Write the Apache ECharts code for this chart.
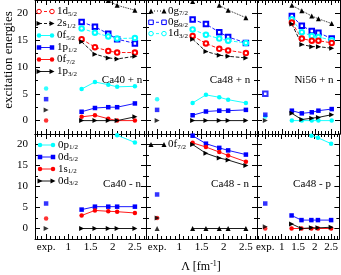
<!DOCTYPE html>
<html><head><meta charset="utf-8">
<script src="https://cdn.jsdelivr.net/npm/echarts@6/dist/echarts.min.js"></script>
<style>html,body{margin:0;padding:0;background:#fff}#c{width:341px;height:275px}</style>
</head><body><div id="c"></div>
<script>
// ---------------- data ----------------
const LAMBDA = [1.3, 1.6, 1.9, 2.1, 2.5];
const EXP_X = 0.5;
const X_TICKS = [0.5, 1, 1.5, 2, 2.5];
const X_LABELS = ['exp.', '1', '1.5', '2', '2.5'];
const Y_TICKS = [0, 5, 10, 15, 20];
const Y_LABELS = ['0', '5', '10', '15', '20'];
const PANEL_NAMES = ['Ca40 + n', 'Ca48 + n', 'Ni56 + n', 'Ca40 - n', 'Ca48 - n', 'Ca48 - p'];

// Ca40 + n
const ca40pn_0g72 = [null, null, 22.4, 21.5, 20.6];
const ca40pn_0g92 = [18.4, 17.5, 16.2, 15.2, 14.4];
const ca40pn_1d32 = [17.2, 16.4, 15.7, 15.3, 15.4];
const ca40pn_1d52 = [15.2, 13.7, 13.0, 12.7, 12.7];
const ca40pn_2s12 = [14.7, 12.4, 11.7, 11.5, 12.0];
const ca40pn_0f52 = [5.9, 7.2, 6.7, 6.3, 6.4];
const ca40pn_1p12 = [1.65, 2.35, 2.5, 2.5, 3.2];
const ca40pn_0f72 = [0.7, 1.0, 0.35, 0, 0];
const ca40pn_1p32 = [0, 0, 0, 0, 0.7];
const ca40pn_exp = {f52: 6.0, p12: 4.0, p32: 2.0, f72: 0};

// Ca48 + n
const ca48pn_0g72 = [22.2, null, 21.5, 20.6, 19.2];
const ca48pn_0g92 = [18.85, 18.0, 16.5, 15.6, 14.5];
const ca48pn_1d32 = [17.0, 16.0, 15.3, 14.9, 14.5];
const ca48pn_1d52 = [15.8, 14.4, 13.4, 13.1, 12.6];
const ca48pn_2s12 = [15.2, 12.9, 12.2, 12.0, 11.7];
const ca48pn_0f52 = [3.3, 4.8, 4.35, 3.9, 3.3];
const ca48pn_1p12 = [1.0, 1.7, 1.85, 1.85, 2.0];
const ca48pn_1p32 = [0, 0, 0, 0, 0];
const ca48pn_exp = {f52: 4.0, p12: 2.0, p32: 0};

// Ni56 + n
const ni56pn_0g72 = [21.5, 20.5, 19.5, 19.0, 18.1];
const ni56pn_0g92 = [19.5, 17.7, 16.7, 16.4, 15.3];
const ni56pn_1d32 = [18.9, 16.5, 15.8, 15.6, 15.0];
const ni56pn_1d52 = [18.3, 15.3, 14.9, 14.9, 14.5];
const ni56pn_2s12 = [18.0, 14.2, 13.8, 13.8, 13.5];
const ni56pn_1p12 = [1.85, 1.35, 1.55, 1.85, 2.15];
const ni56pn_1p32 = [1.35, 0.2, 0.45, 0.6, 1.1];
const ni56pn_0f52 = [0, 0, 0, 0, 0];
const ni56pn_exp = {g92: 5.0, p12: 1.1, f52: 0.75, p32: 0};

// Ca40 - n
const ca40mn_0p12 = [null, null, null, 22.2, 20.5];
const ca40mn_0d52 = [4.5, 5.2, 5.2, 5.2, 5.2];
const ca40mn_1s12 = [3.1, 4.3, 4.1, 4.0, 3.7];
const ca40mn_0d32 = [0, 0, 0, 0, 0];
const ca40mn_exp = {d52: 5.95, s12: 2.4, d32: 0};

// Ca48 - n
const ca48mn_0d52 = [22.1, 20.2, 19.2, 18.6, 17.6];
const ca48mn_1s12 = [20.4, 19.4, 18.2, 17.4, 15.9];
const ca48mn_0d32 = [20.0, 17.9, 16.8, 16.3, 15.0];
const ca48mn_0f72 = [0, 0, 0, 0, 0];
const ca48mn_exp = {d52: 8.1, s12: 2.5, d32: 2.5, f72: 0};

// Ca48 - p
const ca48mp_0p12 = [null, null, 22.1, 21.6, 20.2];
const ca48mp_0d52 = [3.1, 2.0, 2.0, 2.0, 2.0];
const ca48mp_0d32 = [1.1, 0, 0.15, 0.15, 0.3];
const ca48mp_1s12 = [0, 0, 0, 0, 0];
const ca48mp_exp = {d52: 5.95, d32: 0.4, s12: 0};

// ---------------- styles ----------------
const RED = '#ff0000', BLUE = '#0000ff', CYAN = '#00ffff', BLACK = '#000000';
const STY = {
  g72: {c: BLACK, s: 'triangle', size: 5, rot: 0, dash: 'dotted'},
  g92: {c: BLUE, s: 'emptyRect', size: 4.5, rot: 0, dash: 'dashed'},
  d32u: {c: CYAN, s: 'emptyCircle', size: 4.5, rot: 0, dash: 'dashed'},
  d52u: {c: RED, s: 'emptyCircle', size: 4.5, rot: 0, dash: 'dashed'},
  s12u: {c: BLACK, s: 'triangle', size: 5, rot: -90, dash: 'dashed'},
  f52: {c: CYAN, s: 'circle', size: 4.5, rot: 0, dash: 'solid'},
  p12: {c: BLUE, s: 'rect', size: 4.5, rot: 0, dash: 'solid'},
  f72: {c: RED, s: 'circle', size: 4.5, rot: 0, dash: 'solid'},
  p32: {c: BLACK, s: 'triangle', size: 5, rot: -90, dash: 'solid'},
  p12h: {c: CYAN, s: 'circle', size: 4.5, rot: 0, dash: 'solid'},
  d52h: {c: BLUE, s: 'rect', size: 4.5, rot: 0, dash: 'solid'},
  s12h: {c: RED, s: 'circle', size: 4.5, rot: 0, dash: 'solid'},
  d32h: {c: BLACK, s: 'triangle', size: 5, rot: -90, dash: 'solid'},
  f72h: {c: BLACK, s: 'triangle', size: 5, rot: 0, dash: 'solid'}
};

const PANELS = [
  {theory: [['g72', ca40pn_0g72], ['g92', ca40pn_0g92], ['d32u', ca40pn_1d32], ['d52u', ca40pn_1d52], ['s12u', ca40pn_2s12], ['f52', ca40pn_0f52], ['p12', ca40pn_1p12], ['f72', ca40pn_0f72], ['p32', ca40pn_1p32]],
   exp: [['f52', ca40pn_exp.f52], ['p12', ca40pn_exp.p12], ['p32', ca40pn_exp.p32], ['f72', ca40pn_exp.f72]]},
  {theory: [['g72', ca48pn_0g72], ['g92', ca48pn_0g92], ['d32u', ca48pn_1d32], ['d52u', ca48pn_1d52], ['s12u', ca48pn_2s12], ['f52', ca48pn_0f52], ['p12', ca48pn_1p12], ['p32', ca48pn_1p32]],
   exp: [['f52', ca48pn_exp.f52], ['p12', ca48pn_exp.p12], ['p32', ca48pn_exp.p32]]},
  {theory: [['g72', ni56pn_0g72], ['g92', ni56pn_0g92], ['d32u', ni56pn_1d32], ['d52u', ni56pn_1d52], ['s12u', ni56pn_2s12], ['f52', ni56pn_0f52], ['p12', ni56pn_1p12], ['p32', ni56pn_1p32]],
   exp: [['g92', ni56pn_exp.g92], ['f52', ni56pn_exp.f52], ['p12', ni56pn_exp.p12], ['p32', ni56pn_exp.p32]]},
  {theory: [['p12h', ca40mn_0p12], ['d52h', ca40mn_0d52], ['s12h', ca40mn_1s12], ['d32h', ca40mn_0d32]],
   exp: [['d52h', ca40mn_exp.d52], ['s12h', ca40mn_exp.s12], ['d32h', ca40mn_exp.d32]]},
  {theory: [['d52h', ca48mn_0d52], ['s12h', ca48mn_1s12], ['d32h', ca48mn_0d32], ['f72h', ca48mn_0f72]],
   exp: [['d52h', ca48mn_exp.d52], ['s12h', ca48mn_exp.s12], ['d32h', ca48mn_exp.d32], ['f72h', ca48mn_exp.f72]]},
  {theory: [['p12h', ca48mp_0p12], ['d52h', ca48mp_0d52], ['s12h', ca48mp_1s12], ['d32h', ca48mp_0d32]],
   exp: [['d52h', ca48mp_exp.d52], ['s12h', ca48mp_exp.s12], ['d32h', ca48mp_exp.d32]]}
];

// legends: [panel, key, main, sub]
const LEGENDS = [
  [0, 'd52u', '1d', '5/2'], [0, 's12u', '2s', '1/2'], [0, 'f52', '0f', '5/2'],
  [0, 'p12', '1p', '1/2'], [0, 'f72', '0f', '7/2'], [0, 'p32', '1p', '3/2'],
  [1, 'g72', '0g', '7/2'], [1, 'g92', '0g', '9/2'], [1, 'd32u', '1d', '3/2'],
  [3, 'p12h', '0p', '1/2'], [3, 'd52h', '0d', '5/2'], [3, 's12h', '1s', '1/2'], [3, 'd32h', '0d', '3/2'],
  [4, 'f72h', '0f', '7/2']
];

// ---------------- layout ----------------
const FONT = 'Liberation Serif, Times New Roman, serif';
const GRIDS = [
  {left: 35, top: 0, width: 111, height: 134},
  {left: 146, top: 0, width: 111, height: 134},
  {left: 257, top: 0, width: 83, height: 134},
  {left: 35, top: 134, width: 111, height: 105},
  {left: 146, top: 134, width: 111, height: 105},
  {left: 257, top: 134, width: 83, height: 105}
];
const LABEL_POS = [[122, 80], [230, 80], [314, 80], [122, 184], [230, 184], [312, 184]];
const LEG_ROWS = {0: [11.5, 23.5, 35.5, 47.5, 59.5, 71.5], 1: [11, 22.3, 33.6], 3: [145, 157, 169, 181], 4: [144.5]};
const LEG_X = {0: [39, 52, 57], 1: [151, 164, 168], 3: [40, 53, 58], 4: [151, 164, 168]};

const X_MINOR = [];
for (let i = 3; i <= 27; i++) { if (i % 5 !== 0) X_MINOR.push(i / 10); }
const Y_MINOR = [2.5, 7.5, 12.5, 17.5];

function labelFrom(values, labels, v) {
  for (let i = 0; i < values.length; i++) if (Math.abs(values[i] - v) < 1e-6) return labels[i];
  return '';
}

const xAxes = [], yAxes = [], series = [];
GRIDS.forEach((g, gi) => {
  const bottomRow = gi >= 3, leftCol = gi % 3 === 0;
  const mk = (pos, vals, len, showLine, showLabel, isX) => ({
    type: 'value', gridIndex: gi, position: pos,
    min: isX ? 0.25 : -2.5, max: isX ? 2.75 : 22.5,
    axisLine: {show: showLine, onZero: false, lineStyle: {color: '#000', width: 1}},
    axisTick: {show: true, inside: true, length: len, customValues: vals, lineStyle: {color: '#000', width: 1}},
    axisLabel: {show: showLabel, customValues: isX ? X_TICKS : Y_TICKS,
      formatter: v => isX ? labelFrom(X_TICKS, X_LABELS, v) : labelFrom(Y_TICKS, Y_LABELS, v),
      margin: isX ? 3 : 7, fontFamily: FONT, fontSize: 11, color: '#000'},
    splitLine: {show: false}, minorTick: {show: false}
  });
  xAxes.push(mk('bottom', X_TICKS, 5, true, bottomRow, true));
  xAxes.push(mk('bottom', X_MINOR, 3, false, false, true));
  xAxes.push(mk('top', X_TICKS, 5, true, false, true));
  xAxes.push(mk('top', X_MINOR, 3, false, false, true));
  yAxes.push(mk('left', Y_TICKS, 5, true, leftCol, false));
  yAxes.push(mk('left', Y_MINOR, 3, false, false, false));
  yAxes.push(mk('right', Y_TICKS, 5, true, false, false));
  yAxes.push(mk('right', Y_MINOR, 3, false, false, false));

  const p = PANELS[gi];
  p.theory.forEach(([key, vals]) => {
    const st = STY[key];
    series.push({
      type: 'line', xAxisIndex: gi * 4, yAxisIndex: gi * 4,
      data: LAMBDA.map((x, i) => [x, vals[i]]),
      symbol: st.s, symbolSize: st.size, symbolRotate: st.rot, showSymbol: true,
      connectNulls: false, clip: true, silent: true,
      lineStyle: {color: st.c, width: 0.9, type: st.dash},
      itemStyle: {color: st.c, borderColor: st.c, borderWidth: st.s.startsWith('empty') ? 1 : 0}
    });
  });
  p.exp.forEach(([key, v]) => {
    const st = STY[key];
    series.push({
      type: 'scatter', xAxisIndex: gi * 4, yAxisIndex: gi * 4,
      data: [[EXP_X, v]], symbol: st.s, symbolSize: st.size, symbolRotate: st.rot, silent: true,
      itemStyle: {color: st.c, borderColor: st.c, borderWidth: st.s.startsWith('empty') ? 1 : 0}
    });
  });
});

// ---------------- graphics (legend samples, labels) ----------------
function symbolShape(st, cx, cy) {
  const s = st.size, h = s / 2;
  const empty = st.s.startsWith('empty');
  const fill = empty ? '#fff' : st.c;
  const lw = empty ? 1 : 0;
  const base = st.s.replace('empty', '').toLowerCase();
  if (base === 'circle') return {type: 'circle', shape: {cx, cy, r: h}, style: {fill, stroke: st.c, lineWidth: lw}, z: 10};
  if (base === 'rect') return {type: 'rect', shape: {x: cx - h, y: cy - h, width: s, height: s}, style: {fill, stroke: st.c, lineWidth: lw}, z: 10};
  let pts;
  if (st.rot === -90) pts = [[cx + h, cy], [cx - h, cy - h], [cx - h, cy + h]];
  else pts = [[cx, cy - h], [cx + h, cy + h], [cx - h, cy + h]];
  return {type: 'polygon', shape: {points: pts}, style: {fill: st.c}, z: 10};
}
const graphics = [];
LEGENDS.forEach(([pi, key, main, sub]) => {
  const rowIdx = LEGENDS.filter(l => l[0] === pi).findIndex(l => l[1] === key && l[2] === main && l[3] === sub);
  const y = LEG_ROWS[pi][rowIdx];
  const [x1, x2, tx] = LEG_X[pi];
  const st = STY[key];
  graphics.push({type: 'line', shape: {x1, y1: y, x2, y2: y},
    style: {stroke: st.c, lineWidth: 0.9, lineDash: st.dash === 'dashed' ? [3, 2] : st.dash === 'dotted' ? [1, 2] : null}, z: 9});
  graphics.push(symbolShape(st, x1, y));
  graphics.push(symbolShape(st, x2, y));
  graphics.push({type: 'text', x: tx, y: y, z: 10,
    style: {text: main + '{s|' + sub + '}', fill: '#000', font: '11px ' + FONT, verticalAlign: 'middle', align: 'left',
      rich: {s: {fontSize: 7, fontFamily: FONT, padding: [5, 0, 0, 0]}}}});
});
PANEL_NAMES.forEach((name, i) => {
  graphics.push({type: 'text', x: LABEL_POS[i][0], y: LABEL_POS[i][1], z: 10,
    style: {text: name, fill: '#000', font: '11px ' + FONT, align: 'center', verticalAlign: 'middle'}});
});
graphics.push({type: 'text', x: 9, y: 60, rotation: Math.PI / 2, z: 10,
  style: {text: 'excitation energies', fill: '#000', font: '13px ' + FONT, align: 'center', verticalAlign: 'middle'}});
graphics.push({type: 'text', x: 201, y: 267, z: 10,
  style: {text: 'Λ [fm{s|-1}]', fill: '#000', font: '12px ' + FONT, align: 'center', verticalAlign: 'middle',
    rich: {s: {fontSize: 8, fontFamily: FONT, padding: [0, 0, 6, 0]}}}});

const chart = echarts.init(document.getElementById('c'), null, {renderer: 'canvas'});
chart.setOption({
  animation: false,
  backgroundColor: '#fff',
  grid: GRIDS.map(g => Object.assign({containLabel: false}, g)),
  xAxis: xAxes, yAxis: yAxes, series: series,
  graphic: graphics
});
</script></body></html>
